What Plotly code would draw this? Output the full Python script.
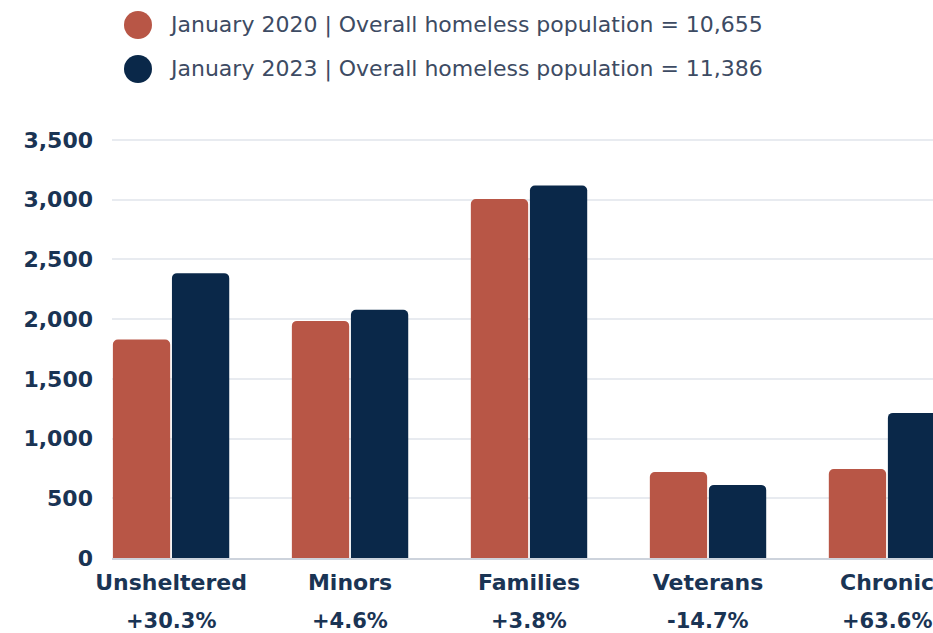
import plotly.graph_objects as go

categories = ["Unsheltered", "Minors", "Families", "Veterans", "Chronic"]
change_labels = ["+30.3%", "+4.6%", "+3.8%", "-14.7%", "+63.6%"]
series_names = [
    "January 2020 | Overall homeless population = 10,655",
    "January 2023 | Overall homeless population = 11,386",
]
values_2020 = [1830, 1985, 3005, 720, 745]
values_2023 = [2385, 2078, 3118, 612, 1215]
series_colors = ["#b85646", "#0a2849"]
y_ticks = [0, 500, 1000, 1500, 2000, 2500, 3000, 3500]

W, H = 933, 633
ML, MR, MT, MB = 112, 0, 128, 75
PW, PH = W - ML - MR, H - MT - MB

TICK_FONT = dict(family="DejaVu Sans", size=22, color="#1a3454", weight="bold")
PCT_FONT = dict(family="DejaVu Sans", size=21, color="#1a3454", weight="bold")

fig = go.Figure()
for name, vals, col in zip(series_names, [values_2020, values_2023], series_colors):
    fig.add_trace(go.Bar(x=categories, y=vals, name=name, marker_color=col,
                         marker_line_width=0, showlegend=False))

ann = []
for cat, lab in zip(categories, change_labels):
    ann.append(dict(x=cat, xref="x", y=0, yref="paper", yshift=-63, yanchor="middle",
                    xanchor="center", text=lab, showarrow=False, font=PCT_FONT))

shapes = []
legend_y_px = [25, 69]
for name, col, ypx in zip(series_names, series_colors, legend_y_px):
    yp = (H - MB - ypx) / PH
    xp = (138 - ML) / PW
    shapes.append(dict(type="circle", xref="paper", yref="paper", xsizemode="pixel",
                       ysizemode="pixel", xanchor=xp, yanchor=yp, x0=-14, x1=14,
                       y0=-14, y1=14, fillcolor=col, line_width=0))
    ann.append(dict(x=(167 - ML) / PW, xref="paper", y=yp, yref="paper", xanchor="left",
                    yanchor="middle", text=name, showarrow=False,
                    font=dict(family="DejaVu Sans", size=22, color="#3d4b63")))

fig.update_layout(
    width=W, height=H,
    margin=dict(l=ML, r=MR, t=MT, b=MB),
    paper_bgcolor="white", plot_bgcolor="white",
    barmode="group", bargap=0.34, bargroupgap=0.03, barcornerradius=5,
    annotations=ann, shapes=shapes,
    xaxis=dict(range=[-0.33, 4.257], showgrid=False, showline=True, linecolor="#cdd3dc",
               linewidth=2, ticks="", ticklabelstandoff=4, tickfont=TICK_FONT),
    yaxis=dict(range=[0, 3600], tickvals=y_ticks, tickformat=",", showgrid=True,
               gridcolor="#e8ebf0", gridwidth=2, zeroline=False, ticks="",
               ticklabelstandoff=18, tickfont=TICK_FONT),
)

fig.write_html("out.html", config={"displayModeBar": False},
               post_script="document.body.style.margin='0';")
